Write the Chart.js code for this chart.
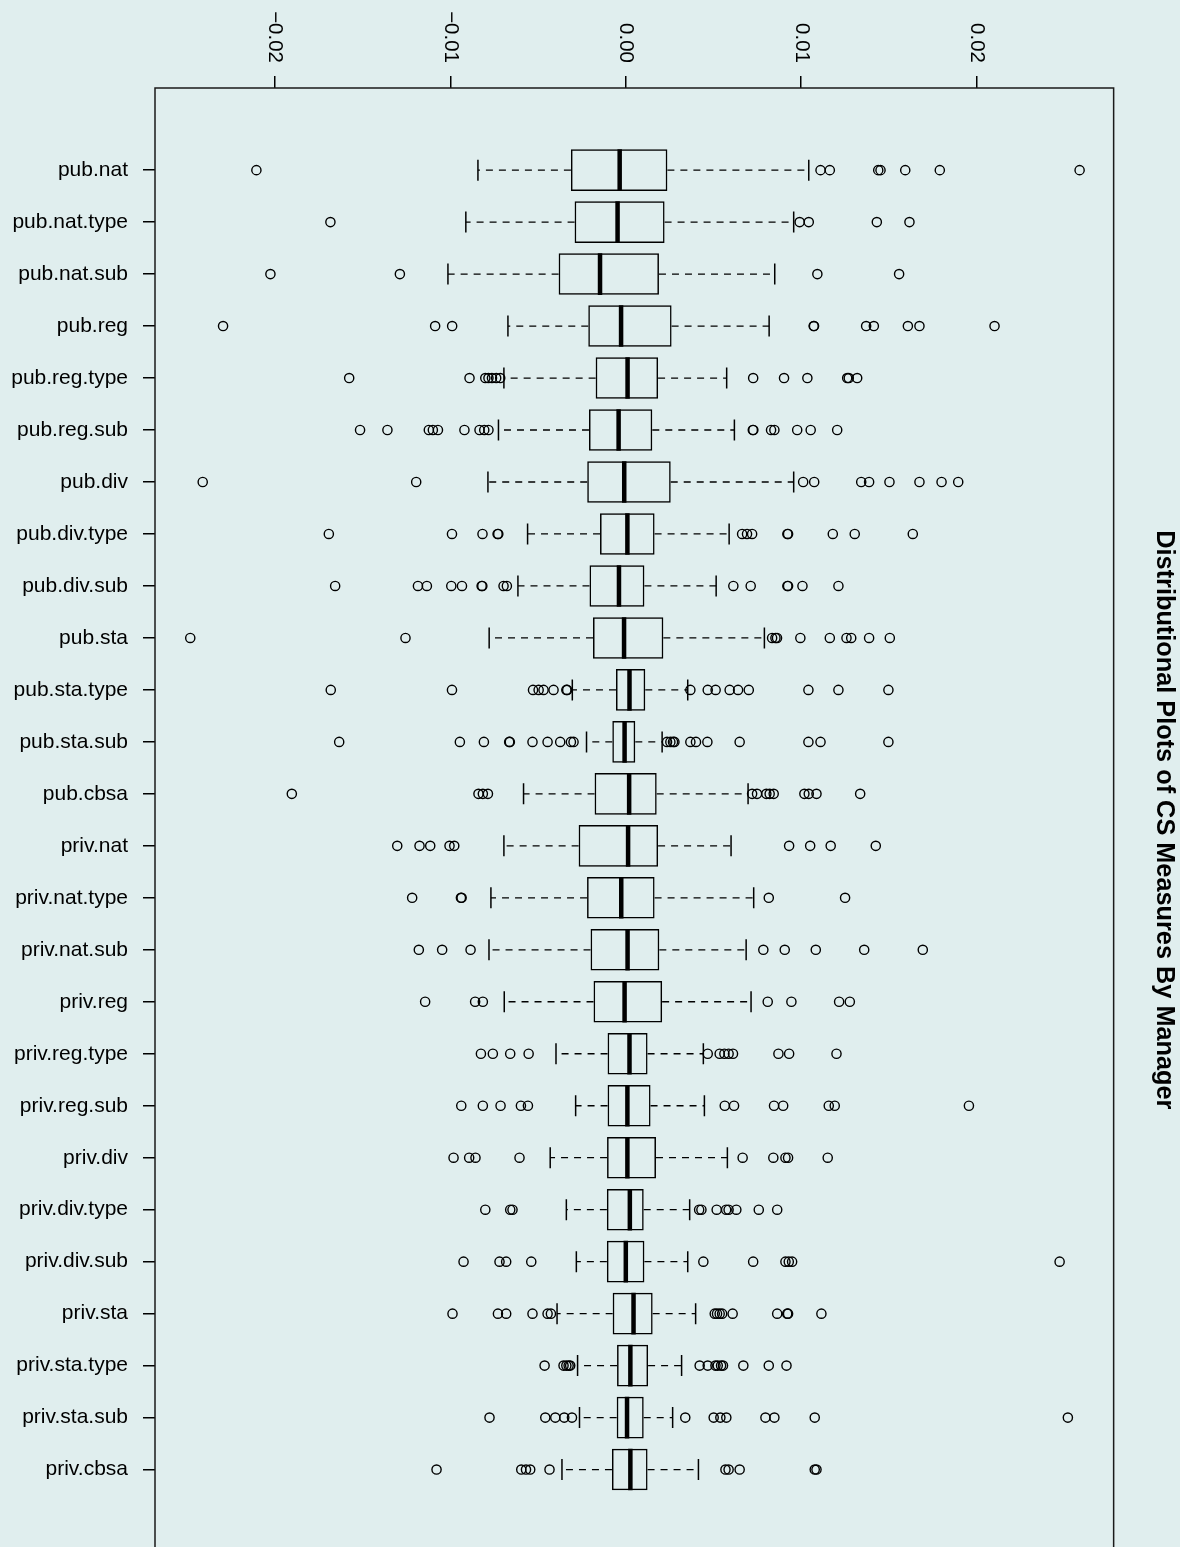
<!DOCTYPE html>
<html>
<head>
<meta charset="utf-8">
<script src="https://cdn.jsdelivr.net/npm/chart.js@4.4.1/dist/chart.umd.min.js"></script>
<style>
  html, body { margin: 0; padding: 0; background: #e0eeee; overflow: hidden; }
  canvas { display: block; }
</style>
</head>
<body>
<canvas id="boxChart" width="1180" height="1577"></canvas>
<script>
var managers = ['pub.nat', 'pub.nat.type', 'pub.nat.sub', 'pub.reg', 'pub.reg.type', 'pub.reg.sub',
  'pub.div', 'pub.div.type', 'pub.div.sub', 'pub.sta', 'pub.sta.type', 'pub.sta.sub', 'pub.cbsa',
  'priv.nat', 'priv.nat.type', 'priv.nat.sub', 'priv.reg', 'priv.reg.type', 'priv.reg.sub',
  'priv.div', 'priv.div.type', 'priv.div.sub', 'priv.sta', 'priv.sta.type', 'priv.sta.sub', 'priv.cbsa'];

var lowerWhisker = [-0.00843, -0.00912, -0.01014, -0.00672, -0.00695, -0.00726, -0.00786, -0.00560, -0.00615,
  -0.00779, -0.00305, -0.00224, -0.00583, -0.00695, -0.00769, -0.00780, -0.00693, -0.00398, -0.00286,
  -0.00431, -0.00339, -0.00282, -0.00392, -0.00275, -0.00264, -0.00364];
var lowerQuartile = [-0.00313, -0.00292, -0.00383, -0.00214, -0.00172, -0.00210, -0.00220, -0.00147, -0.00207,
  -0.00187, -0.00056, -0.00077, -0.00178, -0.00269, -0.00221, -0.00201, -0.00184, -0.00104, -0.00104,
  -0.00107, -0.00108, -0.00108, -0.00075, -0.00050, -0.00052, -0.00079];
var medians = [-0.00035, -0.00047, -0.00147, -0.00027, 0.00010, -0.00041, -0.00009, 0.00009, -0.00039,
  -0.00010, 0.00021, -0.00007, 0.00019, 0.00013, -0.00026, 0.00010, -0.00007, 0.00021, 0.00009,
  0.00009, 0.00023, 0.00000, 0.00044, 0.00026, 0.00007, 0.00026];
var upperQuartile = [0.00237, 0.00221, 0.00189, 0.00261, 0.00184, 0.00151, 0.00256, 0.00164, 0.00106,
  0.00214, 0.00111, 0.00054, 0.00176, 0.00184, 0.00164, 0.00191, 0.00207, 0.00124, 0.00141,
  0.00172, 0.00102, 0.00106, 0.00153, 0.00127, 0.00102, 0.00124];
var upperWhisker = [0.01043, 0.00957, 0.00849, 0.00817, 0.00575, 0.00619, 0.00957, 0.00589, 0.00515,
  0.00790, 0.00353, 0.00207, 0.00697, 0.00600, 0.00729, 0.00686, 0.00714, 0.00442, 0.00448,
  0.00579, 0.00364, 0.00353, 0.00398, 0.00318, 0.00267, 0.00414];

var outliers = [
  [-0.02106, 0.01110, 0.01163, 0.01439, 0.01452, 0.01593, 0.01790, 0.02587],
  [-0.01684, 0.00991, 0.01043, 0.01431, 0.01617],
  [-0.02026, -0.01288, 0.01092, 0.01558],
  [-0.02296, -0.01087, -0.00990, 0.01071, 0.01073, 0.01370, 0.01414, 0.01608, 0.01674, 0.02102],
  [-0.01577, -0.00891, -0.00801, -0.00783, -0.00763, -0.00739, -0.00716, 0.00726, 0.00902, 0.01035, 0.01262, 0.01271, 0.01319],
  [-0.01515, -0.01359, -0.01123, -0.01100, -0.01071, -0.00920, -0.00834, -0.00807, -0.00783, 0.00724, 0.00727, 0.00828, 0.00847, 0.00977, 0.01054, 0.01205],
  [-0.02412, -0.01195, 0.01011, 0.01074, 0.01342, 0.01387, 0.01503, 0.01674, 0.01800, 0.01895],
  [-0.01693, -0.00991, -0.00817, -0.00731, -0.00727, 0.00663, 0.00691, 0.00720, 0.00921, 0.00925, 0.01180, 0.01305, 0.01636],
  [-0.01657, -0.01185, -0.01134, -0.00995, -0.00934, -0.00822, -0.00818, -0.00697, -0.00678, 0.00613, 0.00712, 0.00921, 0.00925, 0.01007, 0.01212],
  [-0.02483, -0.01256, 0.00834, 0.00853, 0.00862, 0.00995, 0.01163, 0.01258, 0.01285, 0.01387, 0.01505],
  [-0.01682, -0.00991, -0.00529, -0.00497, -0.00469, -0.00412, -0.00339, -0.00334, 0.00368, 0.00467, 0.00512, 0.00592, 0.00640, 0.00701, 0.01041, 0.01212, 0.01497],
  [-0.01634, -0.00946, -0.00809, -0.00665, -0.00661, -0.00532, -0.00446, -0.00374, -0.00313, -0.00298, 0.00235, 0.00254, 0.00269, 0.00277, 0.00368, 0.00400, 0.00465, 0.00649, 0.01041, 0.01110, 0.01497],
  [-0.01904, -0.00840, -0.00815, -0.00786, 0.00720, 0.00748, 0.00801, 0.00820, 0.00843, 0.01018, 0.01043, 0.01087, 0.01336],
  [-0.01303, -0.01176, -0.01115, -0.01005, -0.00978, 0.00931, 0.01051, 0.01168, 0.01425],
  [-0.01218, -0.00940, -0.00936, 0.00815, 0.01250],
  [-0.01180, -0.01047, -0.00885, 0.00784, 0.00906, 0.01083, 0.01359, 0.01693],
  [-0.01144, -0.00859, -0.00815, 0.00809, 0.00944, 0.01216, 0.01277],
  [-0.00826, -0.00758, -0.00659, -0.00554, 0.00467, 0.00535, 0.00562, 0.00586, 0.00611, 0.00870, 0.00931, 0.01201],
  [-0.00938, -0.00815, -0.00714, -0.00598, -0.00558, 0.00564, 0.00617, 0.00845, 0.00897, 0.01157, 0.01191, 0.01956],
  [-0.00982, -0.00893, -0.00857, -0.00606, 0.00666, 0.00841, 0.00910, 0.00925, 0.01151],
  [-0.00801, -0.00659, -0.00646, 0.00418, 0.00431, 0.00518, 0.00572, 0.00586, 0.00630, 0.00758, 0.00863],
  [-0.00925, -0.00720, -0.00682, -0.00539, 0.00442, 0.00726, 0.00910, 0.00929, 0.00948, 0.02473],
  [-0.00988, -0.00729, -0.00682, -0.00532, -0.00446, -0.00427, 0.00507, 0.00520, 0.00535, 0.00549, 0.00609, 0.00863, 0.00920, 0.00925, 0.01115],
  [-0.00463, -0.00355, -0.00339, -0.00326, -0.00317, 0.00421, 0.00467, 0.00511, 0.00524, 0.00543, 0.00554, 0.00670, 0.00815, 0.00916],
  [-0.00777, -0.00459, -0.00402, -0.00351, -0.00307, 0.00339, 0.00501, 0.00539, 0.00573, 0.00796, 0.00847, 0.01077, 0.02520],
  [-0.01079, -0.00596, -0.00569, -0.00545, -0.00435, 0.00568, 0.00586, 0.00649, 0.01077, 0.01087]
];

var xTickValues = [-0.02, -0.01, 0, 0.01, 0.02];
var xTickLabels = ['\u22120.02', '\u22120.01', '0.00', '0.01', '0.02'];

var titleText = 'Distributional Plots of CS Measures By Manager';

Chart.defaults.font.family = '"Liberation Sans", Arial, sans-serif';
Chart.defaults.color = '#000';

// whiskers: quartile -> whisker end, gaps between pieces
var whiskerPoints = [];
managers.forEach(function(m, i) {
  whiskerPoints.push({x: lowerQuartile[i], y: i + 1}, {x: lowerWhisker[i], y: i + 1}, {x: null, y: null});
  whiskerPoints.push({x: upperQuartile[i], y: i + 1}, {x: upperWhisker[i], y: i + 1}, {x: null, y: null});
});

var capPoints = [];
managers.forEach(function(m, i) {
  capPoints.push({x: lowerWhisker[i], y: i + 1}, {x: upperWhisker[i], y: i + 1});
});

var outlierPoints = [];
outliers.forEach(function(list, i) {
  list.forEach(function(v) { outlierPoints.push({x: v, y: i + 1}); });
});

// frame round the plot and the top tick labels, turned to read downwards
var frameAndLabels = {
  id: 'frameAndLabels',
  afterDraw: function(chart) {
    var ctx = chart.ctx, a = chart.chartArea, xs = chart.scales.x;
    ctx.save();
    ctx.strokeStyle = '#1a1a1a';
    ctx.lineWidth = 1.5;
    ctx.strokeRect(a.left, a.top, a.right - a.left, a.bottom - a.top);
    ctx.fillStyle = '#000';
    ctx.font = '20.5px "Liberation Sans", Arial, sans-serif';
    ctx.textAlign = 'right';
    ctx.textBaseline = 'middle';
    xTickValues.forEach(function(v, i) {
      ctx.save();
      ctx.translate(xs.getPixelForValue(v), xs.bottom - 25);
      ctx.rotate(Math.PI / 2);
      ctx.fillText(xTickLabels[i], 0, 0);
      ctx.restore();
    });
    ctx.restore();
  }
};

var ctx = document.getElementById('boxChart').getContext('2d');
var boxChart = new Chart(ctx, {
  type: 'bar',
  data: {
    datasets: [{
      type: 'scatter',
      data: managers.map(function(m, i) { return {x: medians[i], y: i + 1}; }),
      pointStyle: 'line',
      pointRotation: 90,
      pointRadius: 20.8,
      pointBorderWidth: 4.5,
      pointBorderColor: '#000'
    }, {
      type: 'scatter',
      data: outlierPoints,
      pointStyle: 'circle',
      pointRadius: 4.6,
      pointBorderWidth: 1.4,
      pointBorderColor: '#000',
      pointBackgroundColor: 'rgba(0,0,0,0)'
    }, {
      type: 'scatter',
      data: capPoints,
      pointStyle: 'line',
      pointRotation: 90,
      pointRadius: 10.5,
      pointBorderWidth: 1.5,
      pointBorderColor: '#000'
    }, {
      type: 'bar',
      indexAxis: 'y',
      data: managers.map(function(m, i) { return {x: [lowerQuartile[i], upperQuartile[i]], y: i + 1}; }),
      backgroundColor: 'rgba(0,0,0,0)',
      borderColor: '#000',
      borderWidth: 1.5,
      borderSkipped: false,
      barPercentage: 0.8,
      categoryPercentage: 1
    }, {
      type: 'line',
      data: whiskerPoints,
      borderColor: '#000',
      borderWidth: 1.3,
      borderDash: [7, 6],
      pointRadius: 0,
      spanGaps: false,
      fill: false
    }]
  },
  options: {
    responsive: false,
    animation: false,
    devicePixelRatio: 1,
    events: [],
    layout: { padding: { left: 0, right: 0, top: 0, bottom: 9 } },
    plugins: {
      legend: { display: false },
      tooltip: { enabled: false },
      title: {
        display: true,
        fullSize: false,
        position: 'right',
        text: titleText,
        color: '#000',
        font: { size: 25.3, weight: 'bold' },
        padding: { top: 1, bottom: 35 }
      }
    },
    scales: {
      x: {
        type: 'linear',
        position: 'top',
        offset: false,
        min: -0.02684,
        max: 0.02781,
        afterBuildTicks: function(scale) {
          scale.ticks = xTickValues.map(function(v) { return {value: v}; });
        },
        afterFit: function(scale) {
          scale.height = 88;
          scale.paddingLeft = 0;
          scale.paddingRight = 0;
        },
        ticks: { display: false },
        grid: { offset: false, drawOnChartArea: false, drawTicks: true, tickLength: 12, color: '#000', lineWidth: 1.5 },
        border: { display: false }
      },
      y: {
        type: 'linear',
        reverse: true,
        offset: false,
        min: -0.58,
        max: 27.58,
        afterBuildTicks: function(scale) {
          scale.ticks = managers.map(function(m, i) { return {value: i + 1}; });
        },
        afterFit: function(scale) {
          scale.width = 155;
          scale.paddingTop = 0;
          scale.paddingBottom = 0;
        },
        ticks: {
          autoSkip: false,
          padding: 15,
          color: '#000',
          font: { size: 21 },
          callback: function(v) { return managers[v - 1]; }
        },
        grid: { offset: false, drawOnChartArea: false, drawTicks: true, tickLength: 12, color: '#000', lineWidth: 1.5 },
        border: { display: false }
      }
    }
  },
  plugins: [frameAndLabels]
});
</script>
</body>
</html>
